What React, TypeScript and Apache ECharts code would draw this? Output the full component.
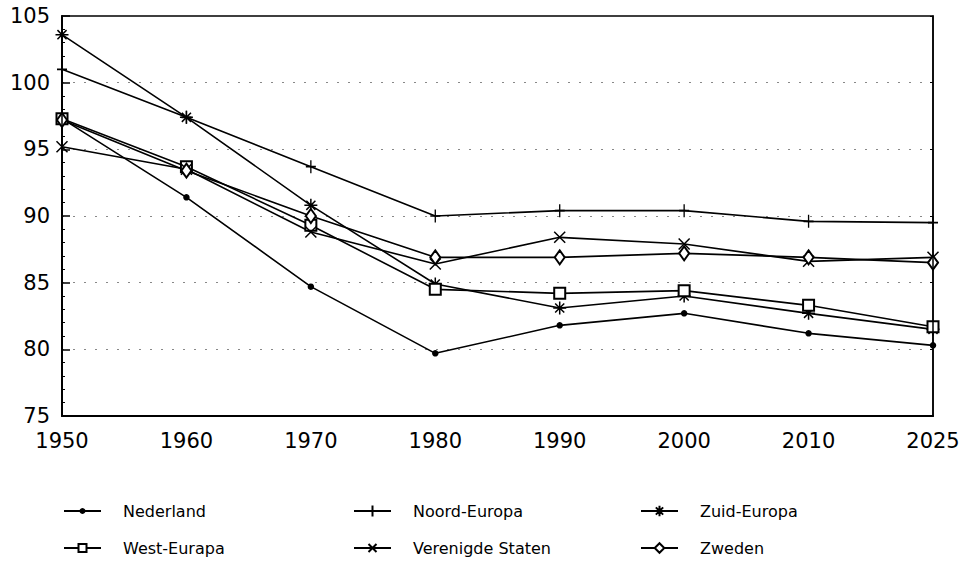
import React, { useEffect, useRef } from "react";
import * as echarts from "echarts";

const years = ["1950", "1960", "1970", "1980", "1990", "2000", "2010", "2025"];
const nederland = [97.3, 91.4, 84.7, 79.7, 81.8, 82.7, 81.2, 80.3];
const noordEuropa = [101.0, 97.4, 93.7, 90.0, 90.4, 90.4, 89.6, 89.5];
const zuidEuropa = [103.6, 97.4, 90.8, 84.9, 83.1, 84.0, 82.7, 81.5];
const westEuropa = [97.3, 93.7, 89.3, 84.5, 84.2, 84.4, 83.3, 81.7];
const verenigdeStaten = [95.2, 93.5, 88.8, 86.4, 88.4, 87.9, 86.6, 86.9];
const zweden = [97.2, 93.4, 90.0, 86.9, 86.9, 87.2, 86.9, 86.5];

const seriesNames = ["Nederland", "Noord-Europa", "Zuid-Europa", "West-Eurapa", "Verenigde Staten", "Zweden"];

const PLUS = "path://M5,0L5,10M0,5L10,5";
const STAR = "path://M5,0L5,10M0,5L10,5M1.5,1.5L8.5,8.5M8.5,1.5L1.5,8.5";
const CROSS = "path://M0,0L10,10M10,0L0,10";

export default function App() {
  const ref = useRef<HTMLDivElement>(null);
  useEffect(() => {
    if (!ref.current) return;
    const chart = echarts.init(ref.current, undefined, { renderer: "svg" });
    const font = "DejaVu Sans";
    const mk = (name: string, data: number[], symbol: string, size: any) => ({
      name,
      type: "line",
      data,
      symbol,
      symbolSize: size,
      showAllSymbol: true,
      lineStyle: { color: "#000", width: 1.6 },
      itemStyle: { color: "#000", borderColor: "#000", borderWidth: 1.5 },
      z: 3,
    });
    const legendPos = [
      { name: seriesNames[0], left: 63, cy: 511, h: 5 },
      { name: seriesNames[3], left: 63, cy: 548, h: 10 },
      { name: seriesNames[1], left: 353, cy: 511, h: 14 },
      { name: seriesNames[4], left: 353, cy: 548, h: 10 },
      { name: seriesNames[2], left: 640, cy: 511, h: 13 },
      { name: seriesNames[5], left: 640, cy: 548, h: 12 },
    ];
    const legends = legendPos.map((p) => ({
      data: [p.name],
      left: p.left,
      top: p.cy - 8,
      padding: 0,
      itemWidth: 37,
      itemHeight: p.h,
      selectedMode: false,
      textStyle: {
        fontFamily: font,
        fontSize: 16,
        lineHeight: 16,
        color: "#000",
        padding: [0, 0, 0, 17],
      },
    }));
    chart.setOption({
      animation: false,
      backgroundColor: "#fff",
      grid: {
        left: 62,
        right: 40,
        top: 16,
        bottom: 148,
        show: true,
        borderColor: "#000",
        borderWidth: 1.5,
        backgroundColor: "transparent",
        z: 5,
      },
      legend: legends,
      xAxis: {
        type: "category",
        data: years,
        boundaryGap: false,
        axisLine: { lineStyle: { color: "#000", width: 2 } },
        axisTick: { show: false },
        axisLabel: { color: "#000", fontFamily: font, fontSize: 21, margin: 14 },
        splitLine: { show: false },
      },
      yAxis: [
        {
          type: "value",
          min: 75,
          max: 105,
          interval: 5,
          axisLine: { show: true, lineStyle: { color: "#000", width: 2 } },
          axisTick: { show: true, inside: true, length: 8, lineStyle: { color: "#000", width: 1.5 } },
          minorTick: { show: true, splitNumber: 5, length: 3, lineStyle: { color: "#000", width: 1 } },
          axisLabel: { color: "#000", fontFamily: font, fontSize: 21, margin: 12 },
          splitLine: {
            show: true,
            showMinLine: false,
            showMaxLine: false,
            lineStyle: { color: "#888", type: [2, 9], width: 1 },
          },
        },
        {
          type: "value",
          min: 75,
          max: 105,
          interval: 5,
          position: "right",
          axisLine: { show: true, lineStyle: { color: "#000", width: 1.5 } },
          axisTick: { show: true, inside: true, length: 3, lineStyle: { color: "#000", width: 1 } },
          minorTick: { show: false },
          axisLabel: { show: false },
          splitLine: { show: false },
        },
      ],
      series: [
        mk(seriesNames[0], nederland, "circle", 5),
        mk(seriesNames[1], noordEuropa, PLUS, [10, 13]),
        mk(seriesNames[2], zuidEuropa, STAR, 13),
        mk(seriesNames[3], westEuropa, "emptyRect", 11),
        mk(seriesNames[4], verenigdeStaten, CROSS, 11),
        mk(seriesNames[5], zweden, "emptyDiamond", [10, 14]),
      ],
    });
    return () => chart.dispose();
  }, []);
  return (
    <div
      ref={ref}
      style={{ position: "fixed", left: 0, top: 0, width: 973, height: 564 }}
    />
  );
}
